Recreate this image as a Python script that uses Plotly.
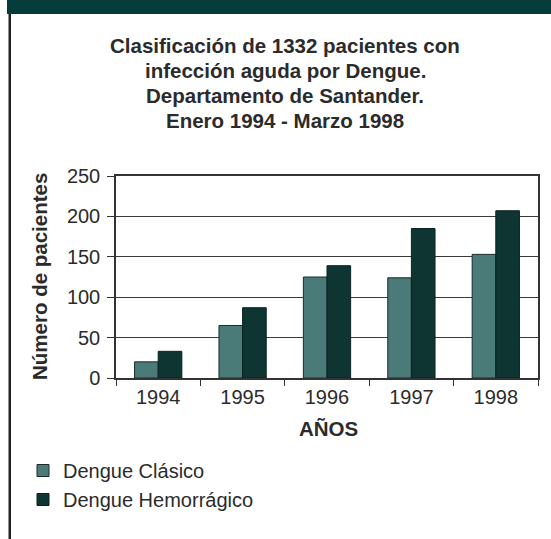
import plotly.graph_objects as go

years = ["1994", "1995", "1996", "1997", "1998"]
clasico = [20, 65, 125, 124, 153]
hemorragico = [33, 87, 139, 185, 207]
series_names = ["Dengue Clásico", "Dengue Hemorrágico"]
title_lines = [
    "Clasificación de 1332 pacientes con",
    "infección aguda por Dengue.",
    "Departamento de Santander.",
    "Enero 1994 - Marzo 1998",
]
y_ticks = [0, 50, 100, 150, 200, 250]

# pixel geometry of the plot area
L, R, T, B = 116, 538, 176, 378
W, H = R - L, B - T


def px(x):
    return (x - L) / W


def py(y):
    return (B - y) / H


FONT = "Liberation Sans, Arial, Helvetica, sans-serif"
TXT = "#2b2b2b"

fig = go.Figure()
fig.add_trace(go.Bar(x=years, y=clasico, name=series_names[0],
                     marker=dict(color="#4b7b79", line=dict(color="#1a2a2a", width=1))))
fig.add_trace(go.Bar(x=years, y=hemorragico, name=series_names[1],
                     marker=dict(color="#0f3533", line=dict(color="#0a2222", width=1))))

annotations = []
for i, line in enumerate(title_lines):
    annotations.append(dict(text="<b>%s</b>" % line, x=px(285), y=py(45.5 + 25 * i),
                            xref="paper", yref="paper", showarrow=False,
                            xanchor="center", yanchor="middle",
                            font=dict(family=FONT, size=20.5, color=TXT)))
annotations.append(dict(text="<b>Número de pacientes</b>", x=px(39), y=0.5,
                        xref="paper", yref="paper", showarrow=False, textangle=-90,
                        xanchor="center", yanchor="middle",
                        font=dict(family=FONT, size=20.5, color=TXT)))
annotations.append(dict(text="<b>AÑOS</b>", x=px(328), y=py(428),
                        xref="paper", yref="paper", showarrow=False,
                        xanchor="center", yanchor="middle",
                        font=dict(family=FONT, size=20.5, color=TXT)))

shapes = [
    dict(type="rect", xref="paper", yref="paper", x0=px(7), x1=px(560),
         y0=py(14), y1=py(-5), fillcolor="#063d3a", line=dict(width=0), layer="above"),
    dict(type="rect", xref="paper", yref="paper", x0=px(8.5), x1=px(11),
         y0=py(14), y1=py(545), fillcolor="#222222", line=dict(width=0), layer="above"),
]

fig.update_layout(
    width=551, height=539,
    margin=dict(l=L, r=551 - R, t=T, b=539 - B, pad=0),
    paper_bgcolor="white", plot_bgcolor="white",
    barmode="group", bargap=0.44, bargroupgap=0,
    font=dict(family=FONT, size=20, color=TXT),
    showlegend=True,
    legend=dict(x=px(23), y=py(451), xanchor="left", yanchor="top",
                font=dict(family=FONT, size=20, color=TXT),
                bgcolor="rgba(0,0,0,0)", tracegroupgap=0),
    annotations=annotations,
    shapes=shapes,
)
fig.update_xaxes(type="category", tickson="boundaries", ticks="outside", ticklen=6,
                 tickcolor="#333", showline=True, linecolor="#333", linewidth=1.5,
                 mirror=True, showgrid=False, tickfont=dict(size=20, color=TXT))
fig.update_yaxes(range=[0, 250], tickvals=y_ticks, ticks="outside", ticklen=7,
                 tickcolor="#333", showline=True, linecolor="#333", linewidth=1.5,
                 mirror=True, showgrid=True, gridcolor="#3a3a3a", gridwidth=1,
                 zeroline=False, tickfont=dict(size=20, color=TXT), ticklabelstandoff=3)

fig.write_html("out.html", config={"displayModeBar": False},
               post_script="document.body.style.margin='0px';")
